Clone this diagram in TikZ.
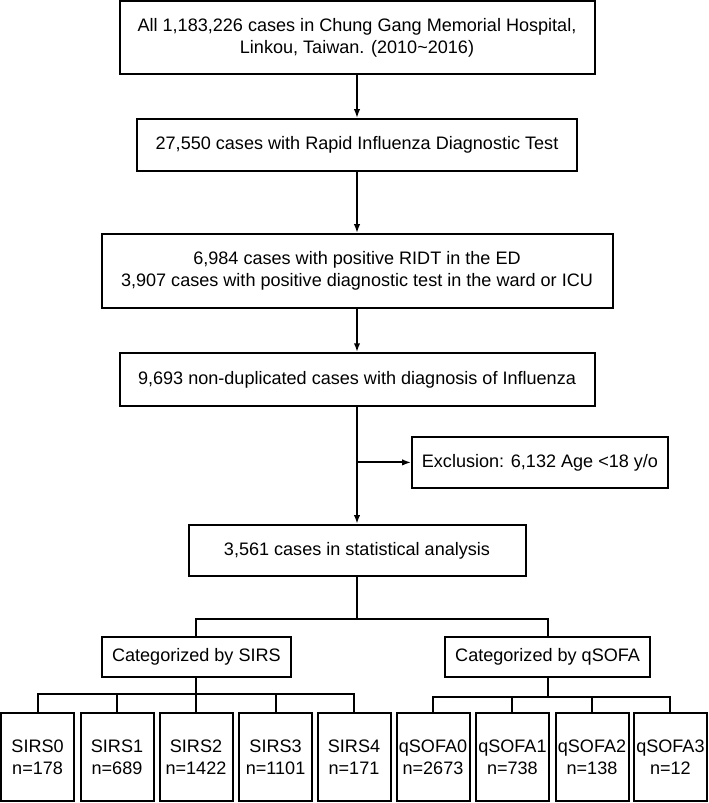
\documentclass[tikz,border=0pt]{standalone}
\usepackage{fontspec}
\setmainfont{Liberation Sans}
\usetikzlibrary{arrows.meta}
\tikzset{
   line/.style ={
      -, line width=0.5mm, color=black,
   },
   arrow/.style ={
      -{Latex[length=2.2mm,width=1.6mm]}, line width=0.5mm, color=black,
   },
   box/.style ={
      rectangle, draw, align=center, line width=0.5mm,
      inner sep=0.3mm,
      font=\fontsize{12.85pt}{15.8pt}\selectfont,
   },
}

\begin{document}
\begin{tikzpicture}

      \useasboundingbox (0mm,0mm) rectangle (177.25mm,-200.75mm);

      \node[box, minimum width=118.75mm, minimum height=18.25mm]
         (all) at (89.25mm,-9.4mm)
         {All 1,183,226 cases in Chung Gang Memorial Hospital,\\Linkou, Taiwan. (2010\textasciitilde 2016)};

      \node[box, minimum width=110mm, minimum height=13mm]
         (ridt) at (89.25mm,-36.25mm)
         {27,550 cases with Rapid Influenza Diagnostic Test};

      \node[box, minimum width=127.75mm, minimum height=18.5mm]
         (pos) at (89.25mm,-67.75mm)
         {6,984 cases with positive RIDT in the ED\\3,907 cases with positive diagnostic test in the ward or ICU};

      \node[box, minimum width=118.75mm, minimum height=13.25mm]
         (flu) at (89.25mm,-94.9mm)
         {9,693 non-duplicated cases with diagnosis of Influenza};

      \node[box, minimum width=64mm, minimum height=12.75mm]
         (excl) at (135mm,-115.6mm)
         {Exclusion: 6,132 Age <18 y/o};

      \node[box, minimum width=84.25mm, minimum height=12.75mm]
         (stat) at (89.25mm,-137.6mm)
         {3,561 cases in statistical analysis};

      \node[box, minimum width=47.25mm, minimum height=10mm]
         (sirscat) at (49.1mm,-164.25mm)
         {Categorized by SIRS};

      \node[box, minimum width=51.25mm, minimum height=10mm]
         (qsofacat) at (136.9mm,-164.25mm)
         {Categorized by qSOFA};

      % bottom row
      \foreach \i/\x/\n in {0/9.4/178, 1/29.25/689, 2/49/1422, 3/68.9/1101, 4/88.5/171}
         \node[box, minimum width=18.25mm, minimum height=22mm]
            (sirs\i) at (\x mm,-189.25mm) {SIRS\i\\n=\n};

      \foreach \i/\x/\n in {0/108.25/2673, 1/128.1/738, 2/148/138, 3/167.6/12}
         \node[box, minimum width=18.25mm, minimum height=22mm]
            (qsofa\i) at (\x mm,-189.25mm) {qSOFA\i\\n=\n};

      \coordinate (split) at (89.25mm,-154.75mm);
      \coordinate (sirsbar) at (49.1mm,-173.6mm);
      \coordinate (qsofabar) at (136.9mm,-174.25mm);

      \draw[arrow] (all.south)  -- (ridt.north);
      \draw[arrow] (ridt.south) -- (pos.north);
      \draw[arrow] (pos.south)  -- (flu.north);
      \draw[arrow] (flu.south)  -- (stat.north);
      \draw[arrow] (flu.south |- excl.west) -- (excl.west);

      \draw[line] (stat.south) -- (split);
      \draw[line] (split) -| (sirscat.north);
      \draw[line] (split) -| (qsofacat.north);

      \draw[line] (sirscat.south) -- (sirsbar);
      \foreach \i in {0,...,4}
         \draw[line] (sirsbar) -| (sirs\i.north);

      \draw[line] (qsofacat.south) -- (qsofabar);
      \foreach \i in {0,...,3}
         \draw[line] (qsofabar) -| (qsofa\i.north);

\end{tikzpicture}
\end{document}
